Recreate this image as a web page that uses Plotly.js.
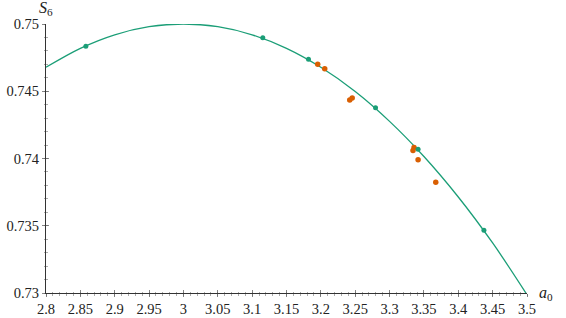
<!DOCTYPE html>
<html><head><meta charset="utf-8">
<script src="https://cdn.plot.ly/plotly-3.0.1.min.js"></script>
<style>html,body{margin:0;padding:0;background:#fff;}#chart{width:566px;height:318px;}</style>
</head><body><div id="chart"></div>
<script>
// curve
const curveX = [2.80, 2.85, 2.90, 2.95, 3.00, 3.05, 3.10, 3.15, 3.20, 3.25, 3.30, 3.35, 3.40, 3.45, 3.499];
const curveY = [0.74678, 0.74819, 0.74920, 0.74980, 0.75000, 0.74980, 0.74920, 0.74819, 0.74678, 0.74498, 0.74276, 0.74015, 0.73714, 0.73372, 0.72995];
// green points on the curve
const greenX = [2.858, 3.1155, 3.182, 3.2796, 3.3415, 3.4373];
const greenY = [0.74835, 0.74897, 0.74738, 0.74377, 0.74068, 0.73467];
// orange points
const orangeX = [3.1954, 3.2056, 3.242, 3.2456, 3.3356, 3.3341, 3.3415, 3.3672];
const orangeY = [0.74701, 0.74667, 0.74435, 0.74450, 0.74081, 0.74059, 0.73990, 0.73823];

const xTicks = [2.8, 2.85, 2.9, 2.95, 3, 3.05, 3.1, 3.15, 3.2, 3.25, 3.3, 3.35, 3.4, 3.45, 3.5];
const xTickText = ['2.8','2.85','2.9','2.95','3','3.05','3.1','3.15','3.2','3.25','3.3','3.35','3.4','3.45','3.5'];
const yTicks = [0.73, 0.735, 0.74, 0.745, 0.75];
const yTickText = ['0.73','0.735','0.74','0.745','0.75'];

const green = '#1b9e77', orange = '#d95f02';
const fam = 'Liberation Serif';
const font = {family: fam, size: 14.5, color: '#222'};

const traces = [
  {x: curveX, y: curveY, mode: 'lines', line: {color: green, width: 1.3, shape: 'spline'}, hoverinfo: 'skip'},
  {x: orangeX, y: orangeY, mode: 'markers', marker: {color: orange, size: 5.5}},
  {x: greenX, y: greenY, mode: 'markers', marker: {color: green, size: 5}},
  {x: [2.8], y: [0.73], xaxis: 'x2', yaxis: 'y2', mode: 'markers', marker: {size: 0.1, opacity: 0}, hoverinfo: 'skip'}
];

const xr = [2.8, 3.5], yr = [0.73, 0.75];
const common = {showgrid: false, zeroline: false};
const layout = {
  width: 566, height: 318,
  margin: {l: 46, r: 39, t: 24, b: 25},
  paper_bgcolor: '#fff', plot_bgcolor: '#fff',
  showlegend: false,
  font: font,
  xaxis: Object.assign({}, common, {range: xr, tickvals: xTicks, ticktext: xTickText, ticks: 'outside', ticklen: 3, tickcolor: '#666', tickwidth: 0.8,
    showline: true, linecolor: '#333', linewidth: 1, tickfont: font,
    minor: {dtick: 0.01, ticks: 'outside', ticklen: 1.5, tickcolor: '#888', tickwidth: 0.7}}),
  yaxis: Object.assign({}, common, {range: yr, tickvals: yTicks, ticktext: yTickText, ticks: 'outside', ticklen: 3, tickcolor: '#666', tickwidth: 0.8,
    showline: true, linecolor: '#333', linewidth: 1, tickfont: font,
    minor: {dtick: 0.001, ticks: 'outside', ticklen: 1.5, tickcolor: '#888', tickwidth: 0.7}}),
  xaxis2: Object.assign({}, common, {range: xr, overlaying: 'x', anchor: 'y2', side: 'bottom', tickvals: xTicks, showticklabels: false, ticks: 'inside', ticklen: 3, tickcolor: '#666', tickwidth: 0.8,
    showline: false, minor: {dtick: 0.01, ticks: 'inside', ticklen: 1.5, tickcolor: '#888', tickwidth: 0.7}}),
  yaxis2: Object.assign({}, common, {range: yr, overlaying: 'y', anchor: 'x2', side: 'left', tickvals: yTicks, showticklabels: false, ticks: 'inside', ticklen: 3, tickcolor: '#666', tickwidth: 0.8,
    showline: false, minor: {dtick: 0.001, ticks: 'inside', ticklen: 1.5, tickcolor: '#888', tickwidth: 0.7}}),
  annotations: [
    {xref: 'paper', yref: 'paper', x: 1, y: 0, xshift: 10, xanchor: 'left', yanchor: 'middle', showarrow: false,
     text: '<i>a</i><sub>0</sub>', font: {family: fam, size: 16, color: '#222'}},
    {xref: 'paper', yref: 'paper', x: 0, y: 1, yshift: 4, xanchor: 'center', yanchor: 'bottom', showarrow: false,
     text: '<i>S</i><sub>6</sub>', font: {family: fam, size: 16, color: '#222'}}
  ]
};
Plotly.newPlot('chart', traces, layout, {staticPlot: true, displayModeBar: false});
</script></body></html>
